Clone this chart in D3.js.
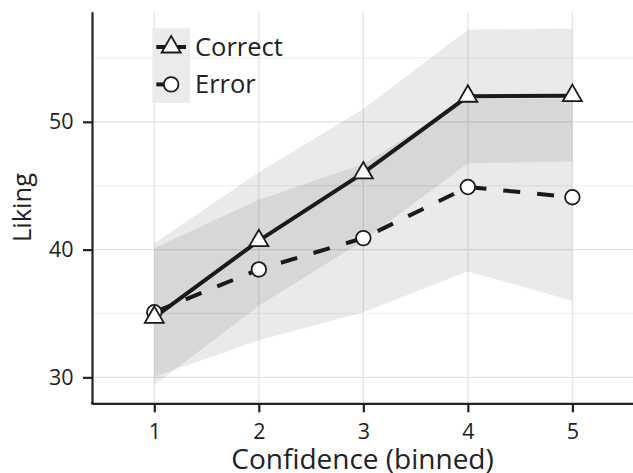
<!DOCTYPE html>
<html lang="en">
<head>
  <meta charset="UTF-8">
  <title>Liking by confidence</title>
  <script src="https://d3js.org/d3.v7.min.js"></script>
  <style>
    body { margin: 0; background: #fff; }
    text { font-family: "Open Sans", "Noto Sans", sans-serif; fill: #222; }
  </style>
</head>
<body>
<svg id="chart" width="633" height="473"></svg>
<script>
  // values
  var confidence = [1, 2, 3, 4, 5]
  var correctMean = [34.7, 40.7, 46.0, 52.0, 52.05]
  var correctLow = [29.4, 35.6, 40.7, 46.75, 46.9]
  var correctHigh = [40.5, 46.05, 51.0, 57.2, 57.3]
  var errorMean = [35.1, 38.45, 40.9, 44.9, 44.1]
  var errorLow = [30.05, 32.9, 35.1, 38.3, 36.0]
  var errorHigh = [40.1, 43.9, 46.7, 51.8, 51.8]
  var yTicks = [30, 40, 50]
  var yMinor = [35, 45, 55]
  var seriesNames = ['Correct', 'Error']

  var svg = d3.select('#chart')
  var pLeft = 92, pRight = 633, pTop = 11.7, pBottom = 403.3

  var x = d3.scaleLinear().domain([0.404, 5.58]).range([pLeft, pRight])
  var y = d3.scaleLinear().domain([27.97, 58.62]).range([pBottom, pTop])

  var ink = '#222'

  // grid
  svg.append('g').selectAll('line')
    .data(yMinor).enter().append('line')
    .attr('x1', pLeft).attr('x2', pRight)
    .attr('y1', d => y(d)).attr('y2', d => y(d))
    .attr('stroke', '#f2f2f2').attr('stroke-width', 1.5)
  svg.append('g').selectAll('line')
    .data(yTicks).enter().append('line')
    .attr('x1', pLeft).attr('x2', pRight)
    .attr('y1', d => y(d)).attr('y2', d => y(d))
    .attr('stroke', '#e3e3e3').attr('stroke-width', 1.2)
  svg.append('g').selectAll('line')
    .data(confidence).enter().append('line')
    .attr('x1', d => x(d)).attr('x2', d => x(d))
    .attr('y1', pTop).attr('y2', pBottom)
    .attr('stroke', '#e3e3e3').attr('stroke-width', 1.2)

  // ribbons
  function ribbon(lo, hi){
    return d3.area()
      .x(d => x(d))
      .y0((d, i) => y(lo[i]))
      .y1((d, i) => y(hi[i]))(confidence)
  }
  svg.append('path').attr('d', ribbon(correctLow, correctHigh))
    .attr('fill', '#333').attr('fill-opacity', 0.1)
  svg.append('path').attr('d', ribbon(errorLow, errorHigh))
    .attr('fill', '#333').attr('fill-opacity', 0.1)

  // lines
  function linePath(vals){
    return d3.line().x(d => x(d)).y((d, i) => y(vals[i]))(confidence)
  }
  svg.append('path').attr('d', linePath(correctMean))
    .attr('fill', 'none').attr('stroke', '#1a1a1a').attr('stroke-width', 4)
  svg.append('path').attr('d', linePath(errorMean))
    .attr('fill', 'none').attr('stroke', '#1a1a1a').attr('stroke-width', 4)
    .attr('stroke-dasharray', '17,17')

  // markers
  function triangle(cx, cy){
    var s = 19, h = s * Math.sqrt(3) / 2
    return 'M' + cx + ',' + (cy - 2 * h / 3) +
      'L' + (cx + s / 2) + ',' + (cy + h / 3) +
      'L' + (cx - s / 2) + ',' + (cy + h / 3) + 'Z'
  }
  svg.append('g').selectAll('circle')
    .data(confidence).enter().append('circle')
    .attr('cx', d => x(d)).attr('cy', (d, i) => y(errorMean[i]))
    .attr('r', 7.3)
    .attr('fill', '#fff').attr('stroke', '#1a1a1a').attr('stroke-width', 1.8)
  svg.append('g').selectAll('path')
    .data(confidence).enter().append('path')
    .attr('d', (d, i) => triangle(x(d), y(correctMean[i])))
    .attr('fill', '#fff').attr('stroke', '#1a1a1a').attr('stroke-width', 1.8)

  // axes
  var xAxis = svg.append('g')
    .attr('transform', 'translate(0,' + pBottom + ')')
    .call(d3.axisBottom(x).tickValues(confidence).tickFormat(d3.format('d'))
      .tickSize(9).tickSizeOuter(0).tickPadding(11.5))
  var yAxis = svg.append('g')
    .attr('transform', 'translate(' + pLeft + ',0)')
    .call(d3.axisLeft(y).tickValues(yTicks).tickFormat(d3.format('d'))
      .tickSize(9).tickSizeOuter(0).tickPadding(9.5))
  ;[xAxis, yAxis].forEach(g => {
    g.select('.domain').attr('stroke', ink).attr('stroke-width', 2.2)
    g.selectAll('.tick line').attr('stroke', ink).attr('stroke-width', 2.2)
    g.selectAll('.tick text').style('font-size', '21.5px').attr('fill', '#333')
  })
  // join the two axis lines at the corner
  svg.append('line').attr('x1', pLeft - 1.1).attr('x2', pLeft + 1.1)
    .attr('y1', pBottom).attr('y2', pBottom)
    .attr('stroke', ink).attr('stroke-width', 2.2)

  svg.append('text')
    .attr('x', (pLeft + pRight) / 2).attr('y', 469)
    .attr('text-anchor', 'middle').style('font-size', '28px')
    .text('Confidence (binned)')
  svg.append('text')
    .attr('transform', 'translate(31,' + (pTop + pBottom) / 2 + ') rotate(-90)')
    .attr('text-anchor', 'middle').style('font-size', '25.5px')
    .text('Liking')

  // legend
  var legX = 152.3, legY = 28.3, keyW = 37.7, keyH = 37.4
  var legend = svg.append('g')
  legend.append('rect')
    .attr('x', legX).attr('y', legY).attr('width', keyW).attr('height', keyH * 2)
    .attr('fill', '#ebebeb')
  seriesNames.forEach((name, i) => {
    var cy = legY + keyH * i + keyH / 2
    legend.append('line')
      .attr('x1', legX + 4).attr('x2', legX + keyW - 4)
      .attr('y1', cy).attr('y2', cy)
      .attr('stroke', '#1a1a1a').attr('stroke-width', 4)
      .attr('stroke-dasharray', i === 1 ? '17,17' : null)
    if (i === 0)
      legend.append('path').attr('d', triangle(legX + keyW / 2, cy))
        .attr('fill', '#fff').attr('stroke', '#1a1a1a').attr('stroke-width', 1.8)
    else
      legend.append('circle').attr('cx', legX + keyW / 2).attr('cy', cy).attr('r', 7.3)
        .attr('fill', '#fff').attr('stroke', '#1a1a1a').attr('stroke-width', 1.8)
    legend.append('text')
      .attr('x', 195).attr('y', cy + 9)
      .style('font-size', '25.5px')
      .text(name)
  })
</script>
</body>
</html>
